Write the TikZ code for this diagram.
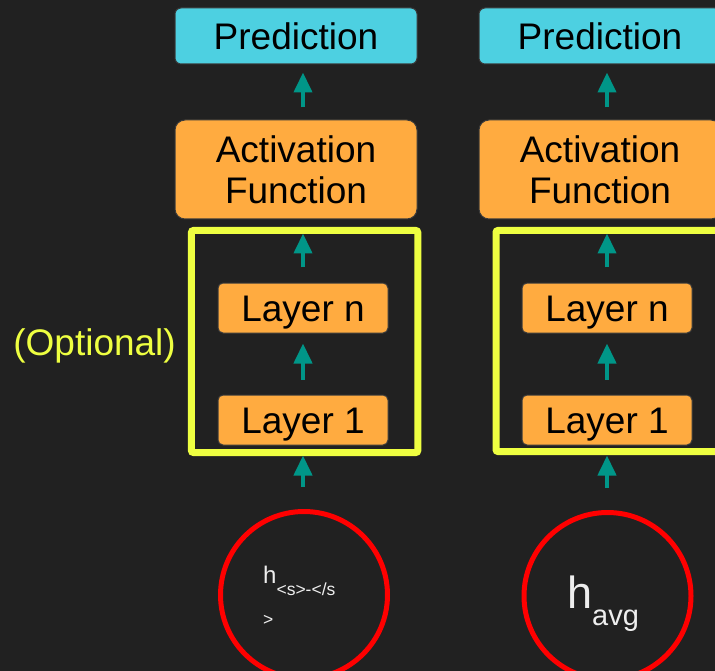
\documentclass[tikz,border=0pt]{standalone}
\usepackage{fontspec}
\setmainfont{Liberation Sans}
\usetikzlibrary{arrows.meta,calc}
\definecolor{bg}{HTML}{212121}
\definecolor{predc}{HTML}{4DD0E1}
\definecolor{orangec}{HTML}{FFAB40}
\definecolor{tealc}{HTML}{009688}
\definecolor{yellowc}{HTML}{EEFF41}
\definecolor{redc}{HTML}{FF0000}
\definecolor{textc}{HTML}{EEEEEE}
\definecolor{edgec}{HTML}{3A3A3A}
\tikzset{
  box/.style={draw=edgec, line width=1pt, inner sep=0pt, align=center,
    font=\fontsize{37}{41}\selectfont, text=black},
  predbox/.style={box, fill=predc, rounded corners=6pt, minimum width=242pt, minimum height=56pt,
    text height=26.5pt, text depth=0pt},
  actbox/.style={box, fill=orangec, rounded corners=10pt, minimum width=242pt, minimum height=99pt},
  layerbox/.style={box, fill=orangec, rounded corners=5pt, minimum width=170pt, minimum height=50pt,
    text height=26.5pt, text depth=0pt},
  optbox/.style={draw=yellowc, line width=7pt, rounded corners=2pt, inner sep=0pt},
  hcircle/.style={circle, draw=redc, line width=5pt, minimum size=167pt, inner sep=0pt},
  arr/.style={draw=tealc, line width=4pt, -{Triangle[width=18pt,length=20pt]}},
}
\begin{document}
\begin{tikzpicture}[x=1pt,y=-1pt]
\fill[bg] (0,0) rectangle (715,671);
\useasboundingbox (0,0) rectangle (715,671);
\clip (0,0) rectangle (715,671);

% left column
\node[predbox] (pred1) at (296,36) {Prediction};
\node[actbox] (act1) at (296,169.5) {Activation\\Function};
\node[optbox, minimum width=226.3pt, minimum height=222pt] (opt1) at (304.6,341.5) {};
\node[layerbox] (ln1) at (303,308) {Layer n};
\node[layerbox] (l11) at (303,420) {Layer 1};
\node[hcircle] (c1) at (304,595) {};
\node[anchor=base west, inner sep=0pt, text=textc] (t1) at (263,583)
  {\fontsize{24}{28}\selectfont h\raisebox{-12pt}{\fontsize{17.5}{20}\selectfont <s>-</s}};
\node[anchor=base west, inner sep=0pt, text=textc] (t1b) at (263,625)
  {\fontsize{17.5}{20}\selectfont >};

% right column
\node[predbox] (pred2) at (600,36) {Prediction};
\node[actbox] (act2) at (600,169.5) {Activation\\Function};
\node[optbox, minimum width=226pt, minimum height=221pt] (opt2) at (609,341) {};
\node[layerbox] (ln2) at (607,308) {Layer n};
\node[layerbox] (l12) at (607,420) {Layer 1};
\node[hcircle] (c2) at (607.5,596) {};
\node[anchor=base west, inner sep=0pt, text=textc] (t2) at (567,608)
  {\fontsize{45}{50}\selectfont h\raisebox{-17pt}{\fontsize{29}{32}\selectfont avg}};

% optional label
\node[anchor=base east, inner sep=0pt, text=yellowc, font=\fontsize{37}{41}\selectfont] (optlabel) at (176,355) {(Optional)};

% arrows left
\draw[arr, shorten <=12pt, shorten >=8pt] (ln1 |- act1.north) -- (ln1 |- pred1.south);
\draw[arr, shorten <=15pt, shorten >=14pt] (ln1.north) -- (ln1 |- act1.south);
\draw[arr, shorten <=15pt, shorten >=10pt] (l11.north) -- (ln1.south);
\draw[arr, shorten <=22pt, shorten >=10pt] (l11 |- c1.north) -- (l11.south);

% arrows right
\draw[arr, shorten <=12pt, shorten >=8pt] (ln2 |- act2.north) -- (ln2 |- pred2.south);
\draw[arr, shorten <=15pt, shorten >=14pt] (ln2.north) -- (ln2 |- act2.south);
\draw[arr, shorten <=15pt, shorten >=10pt] (l12.north) -- (ln2.south);
\draw[arr, shorten <=22pt, shorten >=10pt] (l12 |- c2.north) -- (l12.south);
\end{tikzpicture}
\end{document}
